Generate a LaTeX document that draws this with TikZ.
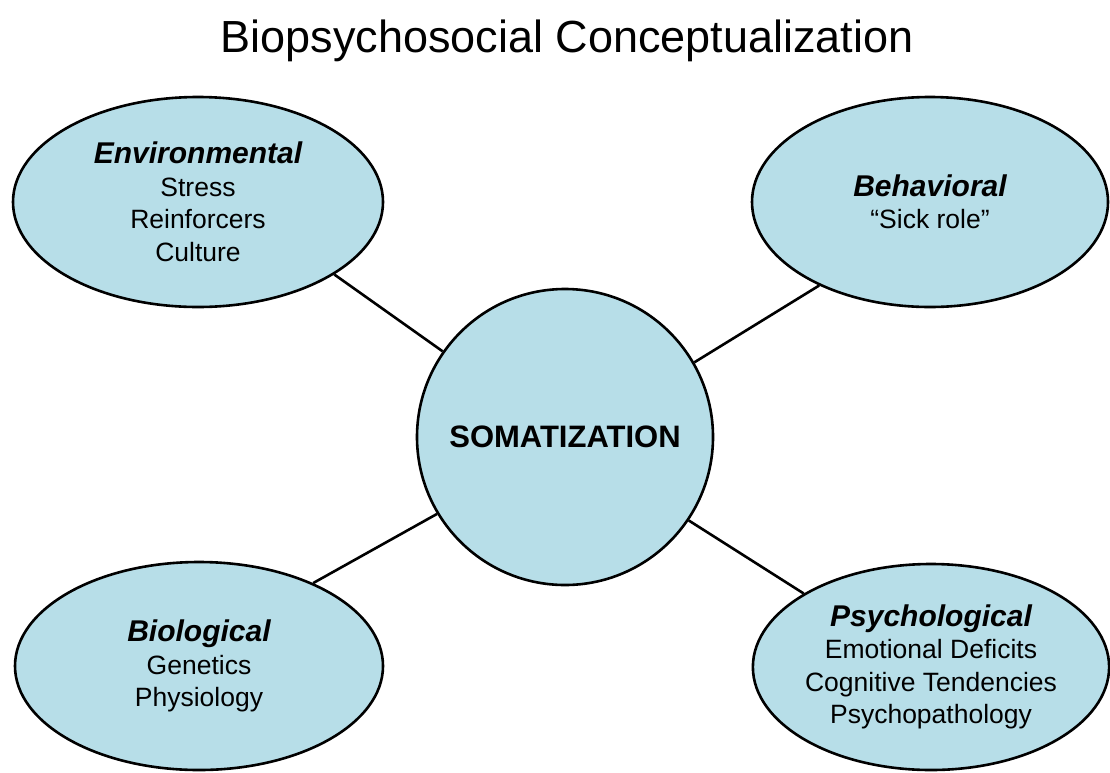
\documentclass[tikz,border=0pt]{standalone}
\usepackage{fontspec}
\setmainfont{Liberation Sans}
\usetikzlibrary{shapes.geometric}

\definecolor{bubble}{HTML}{B7DEE8}

\newcommand{\heading}[1]{{\fontsize{30}{32.5}\selectfont\bfseries\itshape #1}}

\begin{document}
\begin{tikzpicture}
  [x=1pt,y=-1pt,line width=2.6pt,
   every node/.style={draw,fill=bubble,align=center,inner sep=0pt,
                      font=\fontsize{26.5}{32.5}\selectfont}]

  \tikzstyle{factor} = [ellipse]
  \tikzstyle{core}   = [circle,minimum size=296pt,font=\fontsize{31}{36}\selectfont\bfseries]

  \useasboundingbox (0,0) rectangle (1110,772);

  \node[draw=none,fill=none,anchor=base,font=\fontsize{45}{54}\selectfont]
        (title) at (567,52) {Biopsychosocial Conceptualization};

  \node[core] (som) at (565,437) {SOMATIZATION};

  \node[factor,minimum width=370pt,minimum height=210pt] (env) at (198,202)
        {\heading{Environmental}\\Stress\\Reinforcers\\Culture};
  \node[factor,minimum width=356pt,minimum height=210pt] (beh) at (930,202)
        {\heading{Behavioral}\\``Sick role''};
  \node[factor,minimum width=368pt,minimum height=208pt] (bio) at (199,666)
        {\heading{Biological}\\Genetics\\Physiology};
  \node[factor,minimum width=356pt,minimum height=206pt] (psy) at (931,667)
        {\heading{Psychological}\\Emotional Deficits\\Cognitive Tendencies\\Psychopathology};

  \path (som.145)   edge (env.-28)
        (som.30)    edge (beh.217)
        (som.211)   edge (bio.36)
        (som.-34)   edge (psy.150);
\end{tikzpicture}
\end{document}
